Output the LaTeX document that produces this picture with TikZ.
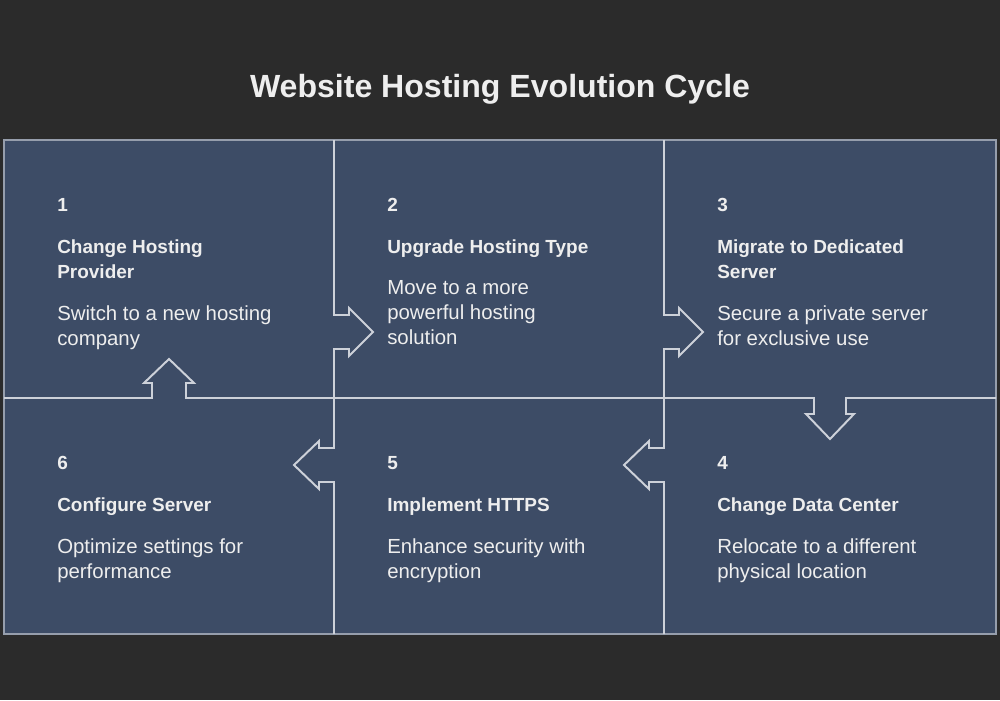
\documentclass[tikz,border=0pt]{standalone}
\usepackage{fontspec}
\setmainfont{Liberation Sans}
\usepackage{tikz}
\usetikzlibrary{positioning}
\definecolor{pagebg}{RGB}{43,43,43}
\definecolor{panel}{RGB}{61,76,102}
\definecolor{gridline}{RGB}{205,209,217}
\definecolor{rimline}{RGB}{150,158,172}
\definecolor{inktext}{RGB}{238,238,238}

\begin{document}
\begin{tikzpicture}[x=0.025cm, y=-0.025cm,
    numtext/.style={anchor=base west, inner sep=0pt, text=inktext,
      font=\fontsize{13.5}{17.8}\selectfont\bfseries},
    headtext/.style={numtext, anchor=north west, align=left,
      execute at begin node=\strut},
    desctext/.style={anchor=north west, inner sep=0pt, text=inktext, align=left,
      font=\fontsize{14.5}{17.8}\selectfont, execute at begin node=\strut},
    cellline/.style={gridline, line width=1.4pt, line join=miter}]
    \useasboundingbox[fill=pagebg] (0,0) rectangle (1000,700);
    \node[anchor=base, text=inktext, font=\fontsize{22.8}{27}\selectfont\bfseries]
      (title) at (500,97) {Website Hosting Evolution Cycle};
    \filldraw[fill=panel, draw=rimline, line width=1.4pt] (4,140) rectangle (996,634);
    % column splits, arrows to the right on top and to the left below
    \foreach \sx in {334,664} {
      \draw[cellline] (\sx,140) -- (\sx,315) -- ++(15,0) -- ++(0,-7) -- ++(24,24)
        -- ++(-24,24) -- ++(0,-7) -- ++(-15,0) -- (\sx,448) -- ++(-15,0) -- ++(0,-7)
        -- ++(-25,24) -- ++(25,24) -- ++(0,-7) -- ++(15,0) -- (\sx,634);
    }
    % row split, up into 1 and down into 4
    \draw[cellline] (4,398) -- (152,398) -- ++(0,-15) -- ++(-8,0) -- ++(25,-24)
      -- ++(25,24) -- ++(-8,0) -- ++(0,15) -- (814,398) -- ++(0,16) -- ++(-8,0)
      -- ++(24,25) -- ++(24,-25) -- ++(-8,0) -- ++(0,-16) -- (996,398);
    % cells: left, top, number, heading lines, heading, text
    \foreach \cx/\cy/\n/\hl/\head/\desc in {
        4/140/1/2/{Change Hosting\\Provider}/{Switch to a new hosting\\company},
        334/140/2/1/{Upgrade Hosting Type}/{Move to a more\\powerful hosting\\solution},
        664/140/3/2/{Migrate to Dedicated\\Server}/{Secure a private server\\for exclusive use},
        664/398/4/1/{Change Data Center}/{Relocate to a different\\physical location},
        334/398/5/1/{Implement HTTPS}/{Enhance security with\\encryption},
        4/398/6/1/{Configure Server}/{Optimize settings for\\performance}} {
      \pgfmathsetmacro{\heady}{\cy+96+3*(\hl-1)}
      \pgfmathsetmacro{\descy}{\cy+140.5+25*(\hl-1)}
      \node[numtext] (num\n) at (\cx+53,\cy+71.5) {\n};
      \node[headtext] (head\n) at (\cx+53,\heady) {\head};
      \node[desctext] (desc\n) at (\cx+53,\descy) {\desc};
    }
\end{tikzpicture}
\end{document}
